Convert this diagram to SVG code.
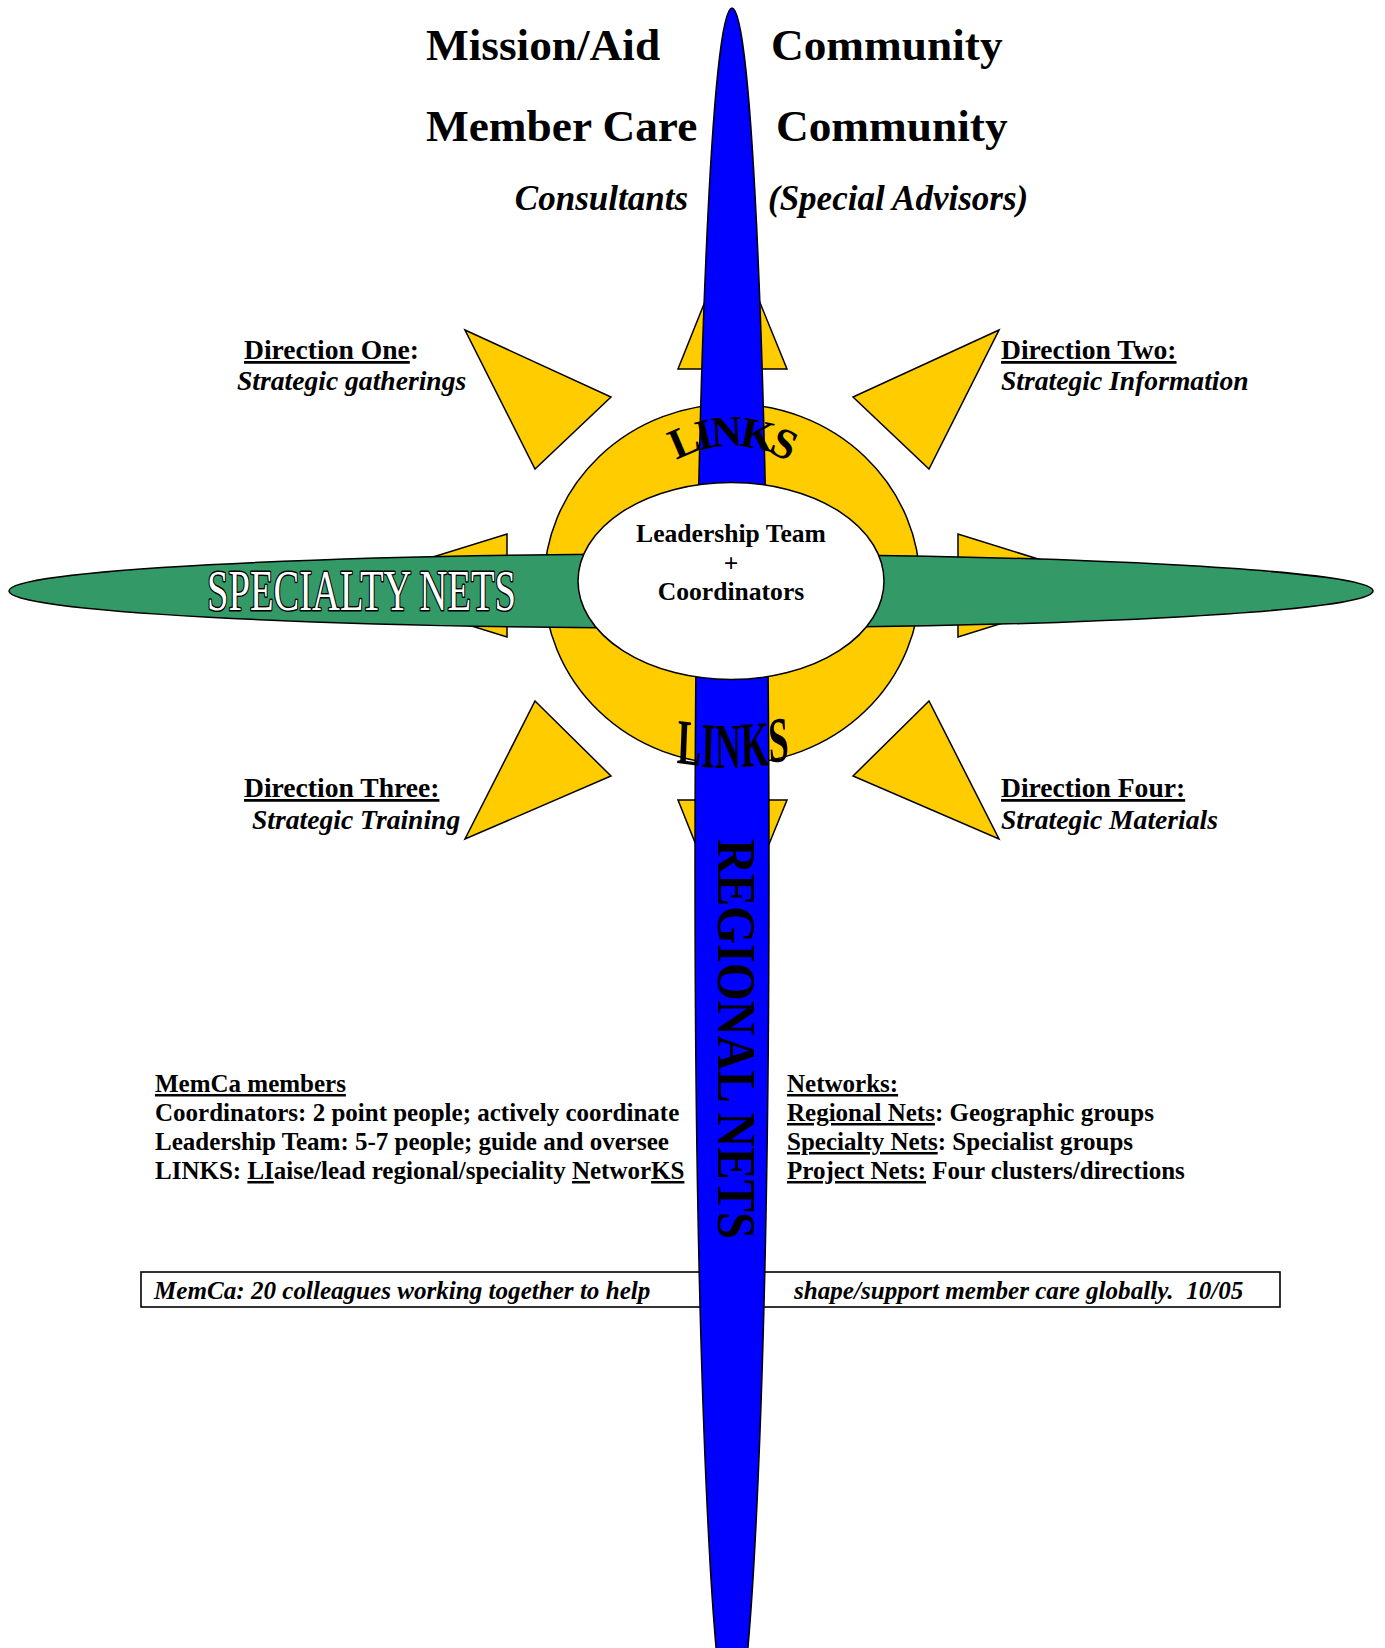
<svg xmlns="http://www.w3.org/2000/svg" width="1385" height="1648" viewBox="0 0 1385 1648">
<style>
text { font-family: "Liberation Serif", "Times New Roman", serif; fill: #000; }
.title { font-size: 45.3px; font-weight: bold; }
.sub { font-size: 35px; font-weight: bold; font-style: italic; }
.dirh { font-size: 27.6px; font-weight: bold; }
.diri { font-size: 27.6px; font-weight: bold; font-style: italic; }
.body { font-size: 25px; font-weight: bold; }
.ctr { font-size: 25.6px; font-weight: bold; }
.boxt { font-size: 25.1px; font-weight: bold; font-style: italic; }
.u { text-decoration: underline; }
.tri { fill: #FFCC00; stroke: #000; stroke-width: 1.5; }
</style>
<defs>
<path id="linksTopArc" d="M 621,556 A 110 110 0 0 1 841,556"/>
</defs>
<rect x="0" y="0" width="1385" height="1648" fill="#fff"/>

<g id="footer-box">
<rect x="141" y="1272" width="1139" height="35" fill="#fff" stroke="#000" stroke-width="1.6"/>
<text class="boxt" x="154" y="1299">MemCa: 20 colleagues working together to help</text>
<text class="boxt" x="794" y="1299">shape/support member care globally.&#160; 10/05</text>
</g>

<g id="connectors">
<polygon id="dir-north" class="tri" points="678,369 787,369 732,234"/>
<polygon id="dir-south" class="tri" points="678,800 787,800 732,935"/>
<polygon id="dir-west" class="tri" points="507,534 507,637 341,585.5"/>
<polygon id="dir-east" class="tri" points="958,534 958,637 1123,585.5"/>
<polygon id="dir-one" class="tri" points="465,330 611,397 535,469"/>
<polygon id="dir-two" class="tri" points="999,330 853,397 929,469"/>
<polygon id="dir-three" class="tri" points="535,701 611,776 465,839"/>
<polygon id="dir-four" class="tri" points="929,701 853,776 999,839"/>
</g>

<g id="links-ring">
<ellipse cx="732" cy="584" rx="188" ry="180" fill="#FFCC00" stroke="#000" stroke-width="1.5"/>
</g>

<g id="specialty-nets">
<ellipse cx="691" cy="591" rx="682" ry="37" fill="#339966" stroke="#000" stroke-width="1.5"/>
</g>

<g id="regional-nets">
<ellipse cx="732" cy="869" rx="37" ry="861" fill="#0000FF" stroke="#000" stroke-width="1.5"/>
</g>

<g id="leadership-center">
<ellipse cx="731" cy="581" rx="153" ry="98.5" fill="#fff" stroke="#000" stroke-width="1.5"/>
<text class="ctr" x="731" y="542" text-anchor="middle">Leadership Team</text>
<text class="ctr" x="731" y="572" text-anchor="middle">+</text>
<text class="ctr" x="731" y="600" text-anchor="middle">Coordinators</text>
</g>

<g id="ring-labels">
<text font-size="43" font-weight="bold" letter-spacing="-4"><textPath href="#linksTopArc" startOffset="50%" text-anchor="middle">LINKS</textPath></text>
<g transform="translate(733,768) scale(0.93,1.65)">
<text x="-60.7 -34.7 -19.5 8.7 39" y="-3 -0.6 0 -0.6 -3.2" font-size="39" font-weight="bold" rotate="4 2 0 -2 -4">LINKS</text>
</g>
<text x="207" y="610" font-size="57" textLength="309" lengthAdjust="spacingAndGlyphs" style="fill:#fff;stroke:#000;stroke-width:3;paint-order:stroke;stroke-linejoin:round">SPECIALTY NETS</text>
<text transform="translate(718,839) rotate(90)" font-size="54" font-weight="bold" textLength="400" lengthAdjust="spacingAndGlyphs">REGIONAL NETS</text>
</g>

<g id="header">
<text class="title" x="426" y="60">Mission/Aid</text>
<text class="title" x="771" y="60">Community</text>
<text class="title" x="426" y="141">Member Care</text>
<text class="title" x="776" y="141">Community</text>
<text class="sub" x="688" y="210" text-anchor="end">Consultants</text>
<text class="sub" x="768" y="210">(Special Advisors)</text>
</g>

<g id="direction-one">
<text class="dirh" x="244" y="359"><tspan class="u">Direction One</tspan>:</text>
<text class="diri" x="237" y="390">Strategic gatherings</text>
</g>
<g id="direction-two">
<text class="dirh" x="1001" y="359"><tspan class="u">Direction Two:</tspan></text>
<text class="diri" x="1001" y="390">Strategic Information</text>
</g>
<g id="direction-three">
<text class="dirh" x="244" y="797"><tspan class="u">Direction Three:</tspan></text>
<text class="diri" x="252" y="829">Strategic Training</text>
</g>
<g id="direction-four">
<text class="dirh" x="1001" y="797"><tspan class="u">Direction Four:</tspan></text>
<text class="diri" x="1001" y="829">Strategic Materials</text>
</g>

<g id="memca-members">
<text class="body" x="155" y="1092"><tspan class="u">MemCa members</tspan></text>
<text class="body" x="155" y="1121">Coordinators: 2 point people; actively coordinate</text>
<text class="body" x="155" y="1150">Leadership Team: 5-7 people; guide and oversee</text>
<text class="body" x="155" y="1179">LINKS: <tspan class="u">LI</tspan>aise/lead regional/speciality <tspan class="u">N</tspan>etwor<tspan class="u">KS</tspan></text>
</g>

<g id="networks">
<text class="body" x="787" y="1092"><tspan class="u">Networks:</tspan></text>
<text class="body" x="787" y="1121"><tspan class="u">Regional Nets</tspan>: Geographic groups</text>
<text class="body" x="787" y="1150"><tspan class="u">Specialty Nets</tspan>: Specialist groups</text>
<text class="body" x="787" y="1179"><tspan class="u">Project Nets:</tspan> Four clusters/directions</text>
</g>
</svg>
